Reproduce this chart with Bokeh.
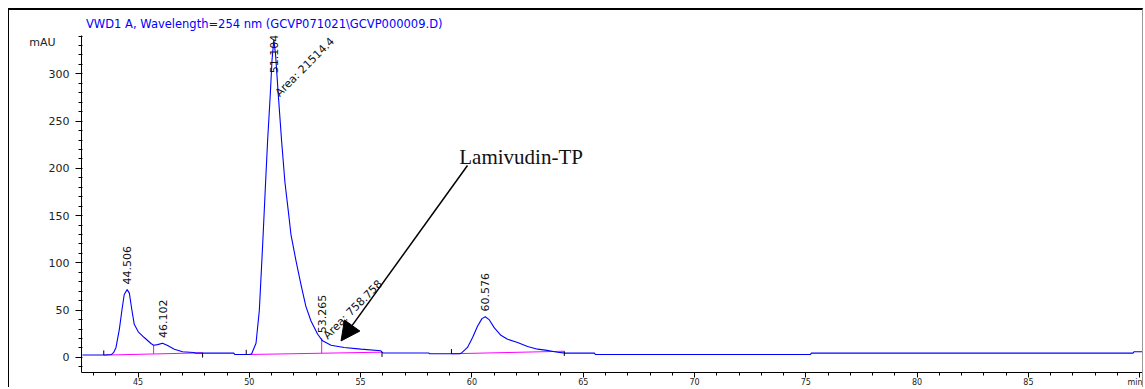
import numpy as np
from bokeh.plotting import figure
from bokeh.models import (Range1d, FixedTicker, Label, ColumnDataSource, Arrow, NormalHead,
                          InlineStyleSheet, LinearAxis)
from bokeh.core.properties import value
from bokeh.embed import file_html
from bokeh.resources import INLINE

# ---------------- data ----------------
title_text = "VWD1 A, Wavelength=254 nm (GCVP071021\\GCVP000009.D)"
y_unit = "mAU"
y_unit_level = 333

time_min = [42.5, 43.5, 43.8, 43.9, 44.01, 44.16, 44.28, 44.38, 44.51, 44.61, 44.72, 44.83,
            45.01, 45.28, 45.58, 45.7, 45.88, 46.1, 46.33, 46.63, 47.0, 47.5, 47.6, 49.3,
            49.35, 50.0, 50.1, 50.3, 50.45, 50.6, 50.72, 50.82, 50.94, 51.02, 51.1, 51.18,
            51.3, 51.45, 51.6, 51.75, 51.87, 52.09, 52.32, 52.54, 52.77, 53.07, 53.29, 53.67,
            54.26, 55.01, 55.91, 56.0, 58.05, 58.1, 59.45, 59.55, 59.8, 60.03, 60.25, 60.45,
            60.6, 60.77, 61.0, 61.3, 61.6, 62.05, 62.5, 62.95, 63.3, 63.85, 64.2, 65.5,
            65.55, 75.2, 75.25, 89.7, 89.75, 90.2]
signal_mau = [2.5, 2.5, 3.0, 5.0, 10.5, 29.7, 50.7, 66.5, 71.7, 68.0, 50.7, 35.0,
              27.0, 21.0, 14.7, 12.9, 13.5, 15.0, 12.5, 8.7, 5.9, 5.2, 4.5, 4.5,
              3.0, 3.0, 3.5, 15.0, 50.0, 120.0, 180.0, 229.0, 278.0, 315.0, 336.0, 320.0,
              278.0, 229.0, 185.0, 155.0, 130.0, 103.0, 77.0, 54.0, 38.5, 24.5, 17.5, 12.9,
              10.5, 8.7, 7.0, 4.7, 4.7, 3.8, 3.8, 5.0, 10.5, 21.0, 33.0, 41.0,
              43.0, 40.0, 31.5, 23.4, 19.2, 15.7, 11.5, 8.7, 7.7, 5.5, 4.5, 4.5,
              3.0, 3.0, 4.5, 4.5, 6.0, 6.0]

peak_rt = [44.506, 46.102, 51.104, 53.265, 60.576]
peak_height = [71.7, 15.0, 336.0, 20.0, 43.0]
peak_text = ["44.506", "46.102", "51.104", "53.265", "60.576"]

area_rt = [51.104, 53.265]
area_height = [278.0, 21.3]
area_text = ["Area: 21514.4", "Area: 758.758"]

base_start_t = [43.46, 49.86, 59.08]
base_start_v = [2.4, 3.0, 3.8]
base_end_t = [47.9, 55.96, 64.15]
base_end_v = [4.8, 5.5, 6.5]

drop_t = [45.7, 53.25]
drop_top = [12.9, 20.0]

annot_text = "Lamivudin-TP"
annot_text_pos = (59.43, 211.8)
arrow_from = (59.80, 203.0)
arrow_to = (54.12, 17.4)

x_major = [45, 50, 55, 60, 65, 70, 75, 80, 85, 90]
y_major = [0, 50, 100, 150, 200, 250, 300]

assert len(time_min) == len(signal_mau)

# ---------------- figure ----------------
X0, X1 = 42.46, 90.17
Y0, Y1 = -16.0, 340.6
FONT = "DejaVu Sans"

border_css = InlineStyleSheet(css=":host { margin: 8px 0 0 8px; border-top: 2px solid black; "
                                  "border-left: 1px solid black; border-right: 1px solid #999999; }")

p = figure(width=1135, height=379, output_backend="svg", toolbar_location=None,
           x_range=Range1d(X0, X1), y_range=Range1d(Y0, Y1),
           min_border_left=72, min_border_right=1, min_border_top=24, min_border_bottom=10,
           background_fill_color="white", border_fill_color="white")
p.stylesheets = [border_css]
p.outline_line_color = None
p.grid.visible = False

# title (blue header line)
p.title.text = title_text
p.title.align = "left"
p.title.offset = 4.5
p.title.standoff = 9
p.title.text_font = FONT
p.title.text_font_size = "11.5px"
p.title.text_font_style = "normal"
p.title.text_color = "#0000ff"

# axes
p.xaxis.ticker = FixedTicker(ticks=x_major, minor_ticks=list(range(43, 91)))
p.xaxis.major_label_overrides = {90: "min"}
p.xaxis.major_tick_out = 5
p.xaxis.major_tick_in = 0
p.xaxis.minor_tick_out = 3
p.xaxis.minor_tick_in = 0
p.xaxis.major_label_standoff = 0
p.xaxis.major_label_text_font_size = "8px"

p.yaxis.ticker = FixedTicker(ticks=y_major, minor_ticks=list(range(-10, 341, 10)))
p.yaxis.major_tick_out = 6
p.yaxis.major_tick_in = 0
p.yaxis.minor_tick_out = 3
p.yaxis.minor_tick_in = 1
p.yaxis.major_label_standoff = 6
p.yaxis.major_label_text_font_size = "11px"

for ax in (p.xaxis[0], p.yaxis[0]):
    ax.major_label_text_font = FONT
    ax.major_label_text_color = "#222222"
    ax.axis_line_color = "black"
    ax.major_tick_line_color = "black"
    ax.minor_tick_line_color = "black"

# unit label "mAU" as an extra (tick-less) left axis
unit_axis = LinearAxis(ticker=FixedTicker(ticks=[y_unit_level], minor_ticks=[]),
                       major_label_overrides={y_unit_level: y_unit},
                       major_tick_out=0, major_tick_in=0, minor_tick_out=0, minor_tick_in=0,
                       axis_line_color=None, major_tick_line_color=None, minor_tick_line_color=None,
                       major_label_standoff=-10, major_label_text_font=FONT,
                       major_label_text_font_size="11px", major_label_text_color="#222222")
p.add_layout(unit_axis, "left")

# baselines (magenta)
p.segment(x0=base_start_t, y0=base_start_v, x1=base_end_t, y1=base_end_v,
          line_color="#ff00ff", line_width=1)
drop_base = list(np.interp(drop_t, [base_start_t[0], base_end_t[0], base_start_t[1], base_end_t[1]],
                           [base_start_v[0], base_end_v[0], base_start_v[1], base_end_v[1]]))
p.segment(x0=drop_t, y0=drop_base, x1=drop_t, y1=drop_top, line_color="#ff00ff", line_width=1)

# trace
p.line(time_min, signal_mau, line_color="#0000ff", line_width=1.1)

# integration event ticks
p.segment(x0=base_start_t, y0=base_start_v, x1=base_start_t,
          y1=[v + 5 for v in base_start_v], line_color="black", line_width=1)
p.segment(x0=base_end_t, y0=base_end_v, x1=base_end_t,
          y1=[v - 5 for v in base_end_v], line_color="black", line_width=1)

# peak labels
label_len = 40.0
lab_y = [min(h + 5.5, Y1 - label_len) for h in peak_height]
src = ColumnDataSource(dict(x=peak_rt, y=lab_y, t=peak_text))
p.text(x="x", y="y", text="t", source=src, angle=np.pi / 2, text_align="left",
       text_baseline="middle", text_font=value(FONT), text_font_size="11px",
       text_color="#111111")

asrc = ColumnDataSource(dict(x=[t + 0.15 for t in area_rt], y=area_height, t=area_text))
p.text(x="x", y="y", text="t", source=asrc, angle=np.pi / 4, text_align="left",
       text_baseline="middle", text_font=value(FONT), text_font_size="11px",
       text_color="#111111")

# annotation
p.add_layout(Label(x=annot_text_pos[0], y=annot_text_pos[1], text=annot_text,
                   text_font="Liberation Serif", text_font_size="21px", text_color="#111111",
                   text_baseline="alphabetic", text_align="left"))
p.add_layout(Arrow(end=NormalHead(size=19, fill_color="black", line_color="black"),
                   x_start=arrow_from[0], y_start=arrow_from[1],
                   x_end=arrow_to[0], y_end=arrow_to[1], line_color="black", line_width=1.5))

open("out.html", "w").write(file_html(p, INLINE))
